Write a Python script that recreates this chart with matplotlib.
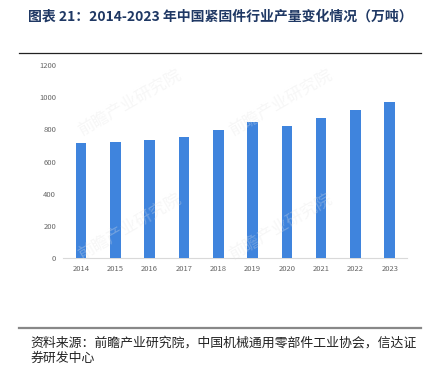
import matplotlib

matplotlib.use("Agg")
import matplotlib.pyplot as plt
from matplotlib.lines import Line2D

plt.rcParams["font.family"] = ["Noto Sans CJK SC", "DejaVu Sans"]

years = ["2014", "2015", "2016", "2017", "2018", "2019", "2020", "2021", "2022", "2023"]
output_wt = [713, 722, 733, 754, 796, 844, 821, 869, 922, 972]
y_ticks = [0, 200, 400, 600, 800, 1000, 1200]

title = "图表 21：2014-2023 年中国紧固件行业产量变化情况（万吨）"
source = "资料来源：前瞻产业研究院，中国机械通用零部件工业协会，信达证"
source2 = "券研发中心"

fig = plt.figure(figsize=(4.32, 3.66), dpi=100)
fig.patch.set_facecolor("white")

fig.text(0.51, 0.955, title, ha="center", va="center", fontsize=10,
         fontweight="bold", color="#1f3864")
fig.add_artist(Line2D([0.044, 0.975], [0.855, 0.855], color="#222222", lw=0.9))

ax = fig.add_axes([0.146, 0.295, 0.796, 0.527])
x = range(len(years))
ax.bar(x, output_wt, width=0.31, color="#3f84dd", zorder=3)
ax.set_xlim(-0.52, 9.5)
ax.set_ylim(0, 1200)
ax.set_xticks(list(x))
ax.set_xticklabels(years)
ax.set_yticks(y_ticks)
ax.tick_params(axis="both", length=0, labelsize=5.5, colors="#666666", pad=5)
for s in ["top", "right", "left"]:
    ax.spines[s].set_visible(False)
ax.spines["bottom"].set_color("#d9d9d9")
ax.spines["bottom"].set_linewidth(0.8)

# faint watermark
for wx, wy in [(0.3, 0.72), (0.65, 0.72), (0.3, 0.38), (0.65, 0.38)]:
    fig.text(wx, wy, "前瞻产业研究院", fontsize=12, color="#e4e4e4", alpha=0.3,
             rotation=30, ha="center", va="center", zorder=0)

fig.add_artist(Line2D([0.044, 0.975], [0.105, 0.105], color="#888888", lw=1.6))
fig.text(0.07, 0.063, source, ha="left", va="center", fontsize=9.3, color="#222222")
fig.text(0.07, 0.002, source2, ha="left", va="bottom", fontsize=9.3, color="#222222")

fig.savefig("out.png", dpi=100)
